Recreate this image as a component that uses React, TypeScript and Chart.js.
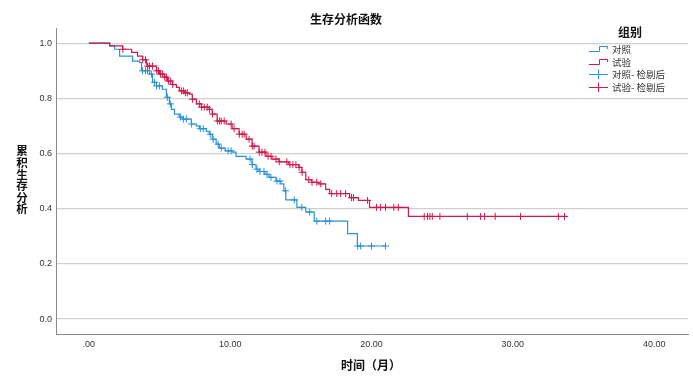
import React, { useEffect, useRef } from "react";
import { Chart, registerables } from "chart.js";

Chart.register(...registerables);

// ---- Data ----
const xTicks = [0, 10, 20, 30, 40];
const yTicks = [0, 0.2, 0.4, 0.6, 0.8, 1.0];

const ctrlTimes = [0, 1.48, 1.83, 2.18, 3.1, 3.59, 3.73, 4.3, 4.51, 4.79, 5.21, 5.49, 5.7, 5.85, 6.06, 6.41, 6.62, 7.25, 7.61, 7.82, 8.31, 8.52, 8.73, 9.01, 9.23, 9.65, 10.14, 10.42, 11.13, 11.55, 11.83, 12.04, 12.46, 12.75, 13.24, 13.59, 13.8, 13.94, 14.72, 15.35, 15.95, 18.31, 19.0, 21.0];
const ctrlSurv = [1.0, 0.99, 0.978, 0.953, 0.935, 0.93, 0.9, 0.888, 0.858, 0.845, 0.833, 0.804, 0.78, 0.76, 0.743, 0.732, 0.725, 0.707, 0.7, 0.69, 0.68, 0.67, 0.652, 0.634, 0.62, 0.61, 0.605, 0.59, 0.58, 0.56, 0.543, 0.535, 0.525, 0.514, 0.5, 0.49, 0.465, 0.432, 0.405, 0.388, 0.355, 0.31, 0.265, 0.265];
const ctrlCensored = [3.8, 4.01, 4.15, 4.44, 4.65, 4.79, 5.0, 5.56, 5.77, 6.48, 6.69, 6.9, 7.27, 7.89, 8.1, 8.59, 8.8, 9.15, 9.37, 9.86, 10.07, 11.41, 11.57, 11.9, 12.11, 12.39, 12.61, 12.89, 13.31, 13.52, 13.92, 14.54, 15.07, 15.63, 16.13, 16.76, 17.04, 19.02, 19.23, 20.0, 20.99];

const trialTimes = [0, 1.48, 2.39, 3.03, 3.45, 3.8, 4.08, 4.15, 4.79, 5.0, 5.35, 5.56, 5.92, 6.2, 6.41, 6.76, 7.11, 7.32, 7.61, 7.96, 8.52, 8.73, 9.08, 9.72, 10.14, 10.63, 11.13, 11.55, 12.04, 12.54, 12.96, 13.45, 14.15, 14.86, 15.07, 15.35, 15.77, 16.27, 16.76, 17.04, 18.45, 19.08, 19.86, 22.61, 33.8];
const trialSurv = [1.0, 0.99, 0.978, 0.967, 0.953, 0.94, 0.924, 0.917, 0.9, 0.888, 0.877, 0.863, 0.85, 0.84, 0.827, 0.82, 0.815, 0.797, 0.78, 0.768, 0.76, 0.743, 0.718, 0.707, 0.69, 0.67, 0.652, 0.627, 0.605, 0.59, 0.58, 0.57, 0.56, 0.55, 0.532, 0.505, 0.496, 0.49, 0.47, 0.455, 0.44, 0.43, 0.405, 0.372, 0.372];
const trialCensored = [2.41, 3.82, 4.01, 4.17, 4.3, 4.51, 4.81, 4.93, 5.07, 5.21, 5.37, 5.49, 5.63, 5.77, 5.94, 6.55, 6.69, 6.83, 6.97, 7.34, 7.82, 7.98, 8.17, 8.38, 8.54, 8.75, 9.1, 9.25, 9.37, 9.58, 10.07, 10.28, 10.65, 10.85, 10.99, 11.34, 11.57, 11.69, 12.06, 12.25, 12.46, 12.68, 12.89, 13.24, 13.47, 14.01, 14.23, 14.44, 14.65, 14.88, 15.09, 15.56, 15.79, 16.13, 16.41, 17.18, 17.54, 17.82, 18.17, 18.59, 18.73, 19.72, 20.35, 20.63, 20.99, 21.58, 21.9, 23.73, 23.96, 24.13, 24.3, 24.84, 26.78, 27.72, 28.0, 28.75, 30.54, 33.22, 33.65];

const groupNames = ["对照", "试验", "对照- 检剔后", "试验- 检剔后"];

const BLUE = "#2a92d8";
const RED = "#d01a4b";

function survAt(ts: number[], ss: number[], t: number) {
  let v = ss[0];
  for (let i = 0; i < ts.length; i++) if (ts[i] <= t) v = ss[i];
  return v;
}

const CJK = '"Noto Sans CJK SC", "Noto Sans", sans-serif';

const extrasPlugin = {
  id: "extras",
  afterDraw(chart: any) {
    const ctx = chart.ctx as CanvasRenderingContext2D;
    ctx.save();
    ctx.fillStyle = "#111";
    ctx.textAlign = "center";
    ctx.textBaseline = "middle";
    // title
    ctx.font = `bold 12px ${CJK}`;
    ctx.fillText("生存分析函数", 346, 19);
    // x title
    ctx.fillText("时间（月）", 371, 365);
    // legend title
    ctx.fillText("组别", 630, 32);
    // y title stacked
    ctx.font = `bold 11.5px ${CJK}`;
    const yChars = "累积生存分析".split("");
    yChars.forEach((c, i) => ctx.fillText(c, 22, 151 + i * 11.6));
    // legend items
    const ys = [49, 62, 74, 87];
    const cols = [BLUE, RED, BLUE, RED];
    ctx.font = `9.5px ${CJK}`;
    ctx.textAlign = "left";
    ys.forEach((y, i) => {
      ctx.strokeStyle = cols[i];
      ctx.lineWidth = 1;
      ctx.beginPath();
      if (i < 2) {
        ctx.moveTo(589, y + 2.5);
        ctx.lineTo(599.5, y + 2.5);
        ctx.lineTo(599.5, y - 2.5);
        ctx.lineTo(607.5, y - 2.5);
        ctx.lineTo(607.5, y);
      } else {
        ctx.moveTo(589, y + 0.5);
        ctx.lineTo(608, y + 0.5);
        ctx.moveTo(598.5, y - 4.5);
        ctx.lineTo(598.5, y + 5);
      }
      ctx.stroke();
      ctx.fillStyle = "#333";
      ctx.fillText(groupNames[i], 612, y);
    });
    ctx.restore();
  },
};

export default function App() {
  const ref = useRef<HTMLCanvasElement>(null);
  useEffect(() => {
    if (!ref.current) return;
    const ctrlLine = ctrlTimes.map((t, i) => ({ x: t, y: ctrlSurv[i] }));
    const trialLine = trialTimes.map((t, i) => ({ x: t, y: trialSurv[i] }));
    const ctrlCens = ctrlCensored.map((t) => ({ x: t, y: survAt(ctrlTimes, ctrlSurv, t) }));
    const trialCens = trialCensored.map((t) => ({ x: t, y: survAt(trialTimes, trialSurv, t) }));

    const chart = new Chart(ref.current, {
      type: "line",
      data: {
        datasets: [
          { label: groupNames[3], data: trialCens, showLine: false, pointStyle: "cross", pointRadius: 3.5, pointBorderColor: RED, borderColor: RED, pointBorderWidth: 1, backgroundColor: RED },
          { label: groupNames[1], data: trialLine, stepped: true, borderColor: RED, borderWidth: 1.2, pointRadius: 0, fill: false },
          { label: groupNames[2], data: ctrlCens, showLine: false, pointStyle: "cross", pointRadius: 3.5, pointBorderColor: BLUE, borderColor: BLUE, pointBorderWidth: 1, backgroundColor: BLUE },
          { label: groupNames[0], data: ctrlLine, stepped: true, borderColor: BLUE, borderWidth: 1.2, pointRadius: 0, fill: false },
        ],
      },
      options: {
        animation: false,
        responsive: false,
        maintainAspectRatio: false,
        layout: { padding: { top: 28, right: 2, left: 0, bottom: 0 } },
        plugins: { legend: { display: false }, title: { display: false }, tooltip: { enabled: false } },
        scales: {
          x: {
            type: "linear",
            min: -2.32,
            max: 42.39,
            afterBuildTicks: (s: any) => { s.ticks = xTicks.map((v) => ({ value: v })); },
            afterFit: (s: any) => { s.height = 51; },
            grid: { display: false, drawTicks: false },
            border: { display: true, color: "#8a8a8a", width: 1 },
            ticks: {
              padding: 5,
              color: "#333",
              font: { family: '"Liberation Sans", Arial, sans-serif', size: 9 },
              callback: (v: any) => (v === 0 ? ".00" : Number(v).toFixed(2)),
              maxRotation: 0,
            },
          },
          y: {
            type: "linear",
            min: -0.054,
            max: 1.055,
            afterBuildTicks: (s: any) => { s.ticks = yTicks.map((v) => ({ value: v })); },
            afterFit: (s: any) => { s.width = 56; },
            grid: { display: true, drawTicks: false, color: "#cfcfcf", lineWidth: 1.3 },
            border: { display: true, color: "#8a8a8a", width: 1 },
            ticks: {
              padding: 4,
              color: "#333",
              font: { family: '"Liberation Sans", Arial, sans-serif', size: 9 },
              callback: (v: any) => Number(v).toFixed(1),
            },
          },
        },
      },
      plugins: [extrasPlugin],
    });
    return () => chart.destroy();
  }, []);
  return (
    <div style={{ position: "fixed", left: 0, top: 0, width: 693, height: 385, background: "#fff" }}>
      <canvas ref={ref} width={693} height={385} style={{ width: 693, height: 385, display: "block" }} />
    </div>
  );
}
